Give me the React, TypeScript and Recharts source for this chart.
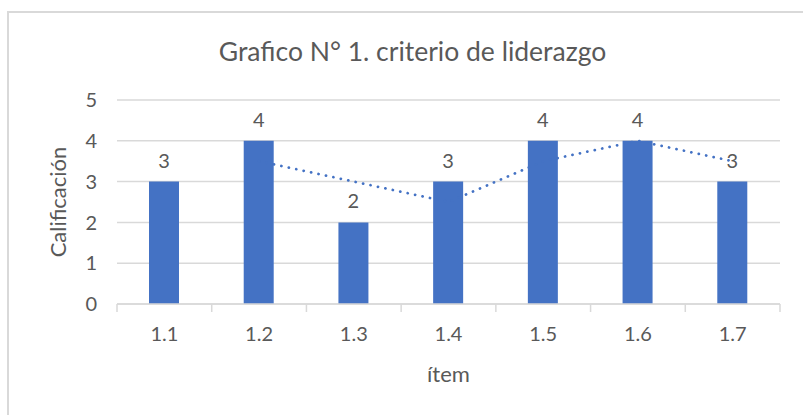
import React from 'react';
import { ComposedChart, Bar, Line, XAxis, YAxis, CartesianGrid, LabelList } from 'recharts';

const items = ['1.1', '1.2', '1.3', '1.4', '1.5', '1.6', '1.7'];
const scores = [3, 4, 2, 3, 4, 4, 3];
// media móvil de 2 periodos (línea punteada)
const movingAvg = [null, 3.5, 3, 2.5, 3.5, 4, 3.5];
const yTicks = [0, 1, 2, 3, 4, 5];

const data = items.map((item, i) => ({ item, score: scores[i], avg: movingAvg[i] }));

const FONT = 'Lato, "Noto Sans", sans-serif';
const TEXT = '#595959';
const GRID = '#d9d9d9';
const BLUE = '#4472C4';

// etiqueta del eje X con marcas entre categorías (estilo Excel)
const ItemTick = (props: any) => {
  const { x, y, payload, index, width, visibleTicksCount } = props;
  const band = width / visibleTicksCount;
  const top = y - 20;
  return (
    <g>
      <line x1={x - band / 2} x2={x - band / 2} y1={top} y2={top + 8} stroke={GRID} strokeWidth={1.5} />
      {index === visibleTicksCount - 1 && (
        <line x1={x + band / 2} x2={x + band / 2} y1={top} y2={top + 8} stroke={GRID} strokeWidth={1.5} />
      )}
      <text x={x} y={y} dy={17} textAnchor="middle" fill={TEXT} fontSize={20} fontFamily={FONT}>
        {payload.value}
      </text>
    </g>
  );
};

export default function App() {
  return (
    <div style={{ position: 'fixed', left: 0, top: 0, width: 803, height: 415, overflow: 'hidden', background: '#fff', fontFamily: FONT }}>
      <div style={{ position: 'absolute', left: 7, top: 11, width: 830, height: 430, border: `2px solid ${GRID}` }} />
      <div style={{ position: 'absolute', left: 0, top: 35, width: 825, textAlign: 'center', fontSize: 26.5, color: TEXT }}>
        Grafico N° 1. criterio de liderazgo
      </div>
      <div style={{ position: 'absolute', left: 0, top: 0 }}>
        <ComposedChart width={803} height={415} data={data} margin={{ top: 100, right: 23, bottom: 71, left: 57 }}>
          <CartesianGrid vertical={false} stroke={GRID} strokeWidth={1.5} />
          <XAxis
            dataKey="item"
            axisLine={{ stroke: GRID, strokeWidth: 1.5 }}
            tickLine={false}
            tickSize={0}
            tickMargin={20}
            height={40}
            interval={0}
            tick={<ItemTick />}
            label={{ value: 'ítem', position: 'insideBottom', offset: -38, fill: TEXT, fontSize: 22, fontFamily: FONT }}
          />
          <YAxis
            domain={[0, 5]}
            ticks={yTicks}
            axisLine={false}
            tickLine={false}
            tickSize={0}
            tickMargin={20}
            width={60}
            tick={{ fill: TEXT, fontSize: 20, fontFamily: FONT }}
            label={{ value: 'Calificación', angle: -90, position: 'insideLeft', offset: 0, dx: 1, fill: TEXT, fontSize: 22, fontFamily: FONT, style: { textAnchor: 'middle' } }}
          />
          <Line
            dataKey="avg"
            type="linear"
            stroke={BLUE}
            strokeWidth={2.75}
            strokeDasharray="0.1 7.5"
            strokeLinecap="round"
            dot={false}
            activeDot={false}
            isAnimationActive={false}
          />
          <Bar dataKey="score" fill={BLUE} barSize={30} isAnimationActive={false}>
            <LabelList dataKey="score" position="top" offset={14} fill={TEXT} fontSize={20} fontFamily={FONT} />
          </Bar>
        </ComposedChart>
      </div>
    </div>
  );
}
